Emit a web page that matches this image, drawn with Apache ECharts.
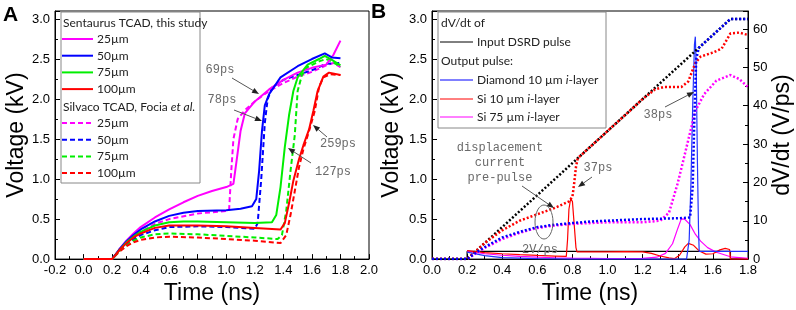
<!DOCTYPE html>
<html>
<head>
<meta charset="utf-8">
<script src="https://cdn.jsdelivr.net/npm/echarts@6/dist/echarts.min.js"></script>
<style>
  html, body { margin: 0; padding: 0; background: #fff; }
  #chart { width: 796px; height: 310px; }
</style>
</head>
<body>
<div id="chart"></div>
<script>
// ---- panel A: output voltage, Sentaurus (solid) vs Silvaco (dashed) ----
const sent25 = [[0,0],[0.2,0],[0.25,0.12],[0.3,0.23],[0.35,0.32],[0.4,0.4],[0.5,0.52],[0.6,0.62],[0.7,0.71],[0.8,0.79],[0.9,0.85],[1.0,0.9],[1.05,0.94],[1.07,1.2],[1.1,1.6],[1.13,1.82],[1.2,1.97],[1.3,2.12],[1.4,2.24],[1.5,2.33],[1.6,2.39],[1.7,2.43],[1.75,2.55],[1.8,2.73]]
const sent50 = [[0,0],[0.2,0],[0.25,0.12],[0.3,0.22],[0.35,0.3],[0.4,0.37],[0.5,0.47],[0.6,0.54],[0.7,0.58],[0.8,0.6],[1.0,0.61],[1.1,0.63],[1.18,0.66],[1.21,0.75],[1.23,1.1],[1.25,1.6],[1.27,1.92],[1.3,2.06],[1.38,2.27],[1.5,2.41],[1.6,2.5],[1.69,2.57],[1.74,2.52],[1.8,2.51]]
const sent75 = [[0,0],[0.2,0],[0.25,0.11],[0.3,0.21],[0.35,0.28],[0.4,0.34],[0.5,0.42],[0.6,0.46],[0.7,0.47],[0.8,0.47],[1.0,0.46],[1.2,0.45],[1.32,0.46],[1.35,0.55],[1.38,0.9],[1.41,1.4],[1.44,1.8],[1.47,2.1],[1.5,2.27],[1.57,2.43],[1.65,2.5],[1.69,2.54],[1.74,2.49],[1.8,2.42]]
const sent100 = [[0,0],[0.2,0],[0.25,0.11],[0.3,0.2],[0.35,0.27],[0.4,0.32],[0.5,0.39],[0.6,0.42],[0.8,0.42],[1.0,0.41],[1.2,0.39],[1.38,0.37],[1.41,0.45],[1.44,0.7],[1.47,0.98],[1.51,1.25],[1.54,1.42],[1.58,1.62],[1.61,1.85],[1.64,2.1],[1.68,2.28],[1.72,2.33],[1.8,2.3]]
const silv25 = [[0,0],[0.2,0],[0.25,0.11],[0.3,0.2],[0.35,0.28],[0.4,0.34],[0.5,0.44],[0.6,0.5],[0.8,0.57],[1.0,0.6],[1.02,0.62],[1.035,1.1],[1.05,1.5],[1.08,1.75],[1.13,1.86],[1.2,1.97],[1.3,2.1],[1.4,2.2],[1.5,2.28],[1.6,2.34],[1.7,2.42],[1.75,2.45],[1.8,2.4]]
const silv50 = [[0,0],[0.2,0],[0.25,0.1],[0.3,0.18],[0.35,0.25],[0.4,0.3],[0.5,0.36],[0.6,0.4],[0.8,0.41],[1.0,0.4],[1.2,0.38],[1.22,0.45],[1.245,1.0],[1.27,1.7],[1.29,2.0],[1.32,2.14],[1.4,2.24],[1.5,2.3],[1.6,2.36],[1.7,2.44],[1.8,2.45]]
const silv75 = [[0,0],[0.2,0],[0.25,0.1],[0.3,0.17],[0.35,0.23],[0.4,0.27],[0.5,0.31],[0.6,0.32],[0.8,0.31],[1.0,0.29],[1.2,0.27],[1.36,0.25],[1.39,0.3],[1.42,0.6],[1.45,1.1],[1.48,1.55],[1.5,2.1],[1.53,2.3],[1.57,2.4],[1.65,2.47],[1.7,2.5],[1.75,2.46],[1.8,2.4]]
const silv100 = [[0,0],[0.2,0],[0.25,0.09],[0.3,0.16],[0.35,0.21],[0.4,0.24],[0.5,0.27],[0.6,0.28],[0.8,0.27],[1.0,0.25],[1.2,0.23],[1.38,0.2],[1.42,0.3],[1.45,0.55],[1.48,0.85],[1.51,1.15],[1.54,1.37],[1.58,1.6],[1.62,1.85],[1.65,2.15],[1.68,2.27],[1.73,2.31],[1.8,2.3]]
const thicknessA = ['25µm', '50µm', '75µm', '100µm']

// ---- panel B: voltage (dotted, left axis) and dV/dt (solid, right axis) ----
const inputV = [[0,0],[0.2,0],[1.7,3.0],[1.8,3.0]]
const diamondV = [[0,0],[0.2,0],[0.25,0.08],[0.3,0.15],[0.4,0.27],[0.5,0.34],[0.6,0.4],[0.7,0.43],[0.8,0.45],[0.9,0.47],[1.0,0.48],[1.2,0.5],[1.4,0.51],[1.47,0.52],[1.485,0.9],[1.495,1.8],[1.505,2.5],[1.52,2.64],[1.7,3.0],[1.8,3.0]]
const si10V = [[0,0],[0.2,0],[0.25,0.1],[0.3,0.2],[0.4,0.36],[0.5,0.48],[0.6,0.56],[0.7,0.64],[0.78,0.72],[0.79,0.74],[0.8,0.78],[0.81,0.95],[0.82,1.15],[0.83,1.26],[1.0,1.6],[1.2,2.0],[1.27,2.12],[1.32,2.15],[1.42,2.15],[1.46,2.22],[1.5,2.45],[1.53,2.53],[1.6,2.58],[1.65,2.63],[1.7,2.82],[1.75,2.83],[1.8,2.8]]
const si75V = [[0,0],[0.2,0],[0.25,0.07],[0.3,0.14],[0.4,0.25],[0.5,0.33],[0.6,0.39],[0.7,0.42],[0.8,0.44],[1.0,0.46],[1.2,0.46],[1.3,0.48],[1.35,0.58],[1.4,0.95],[1.45,1.4],[1.5,1.85],[1.55,2.06],[1.62,2.23],[1.7,2.3],[1.75,2.25],[1.8,2.15]]
const inputRate = [[0,0],[0.2,0],[0.2,2],[1.7,2],[1.7,0],[1.8,0]]
const diamondRate = [[0.2,1.8],[0.3,0.9],[0.4,0.4],[0.6,0.1],[0.8,0],[1.45,0],[1.465,5],[1.475,20],[1.485,40],[1.495,56],[1.5,58],[1.505,50],[1.512,25],[1.518,8],[1.522,2],[1.8,2]]
const si10Rate = [[0.2,2.2],[0.3,1.7],[0.4,1.4],[0.5,1.15],[0.6,0.95],[0.7,0.8],[0.765,0.7],[0.772,5],[0.78,13],[0.79,15.8],[0.8,15],[0.81,9],[0.82,3],[0.826,1.9],[1.0,1.9],[1.1,1.95],[1.2,1.9],[1.25,1.5],[1.3,0.8],[1.35,0.3],[1.38,0.1],[1.41,1],[1.44,3.2],[1.46,4.1],[1.49,3.6],[1.52,2.2],[1.56,1.3],[1.6,1.4],[1.64,2.4],[1.67,2.8],[1.695,2.5],[1.7,0],[1.8,0]]
const si75Rate = [[0.2,2.1],[0.3,1.4],[0.4,1.0],[0.5,0.7],[0.6,0.5],[0.7,0.35],[0.8,0.25],[1.0,0.15],[1.2,0.2],[1.28,0.5],[1.33,1.5],[1.37,4],[1.4,8],[1.42,10.5],[1.44,10.4],[1.47,9],[1.5,6.5],[1.53,4.7],[1.57,3],[1.62,1.8],[1.7,0.6],[1.8,0.2]]

const SANS = 'Liberation Sans, Arial, sans-serif'
const LEG = 'Lato, Open Sans, sans-serif'
const MONO = 'Liberation Mono, DejaVu Sans Mono, monospace'
const MAG = '#ff00ff', BLU = '#0000ff', GRN = '#00ee00', RED = '#ff0000'

const chart = echarts.init(document.getElementById('chart'))

const valueAxis = (o) => Object.assign({
  type: 'value',
  axisLine: { show: true, onZero: false, lineStyle: { color: '#000', width: 1 } },
  axisTick: { show: true, inside: true, length: 5, lineStyle: { color: '#000' } },
  minorTick: { show: true, splitNumber: 2, length: 3, lineStyle: { color: '#000' } },
  splitLine: { show: false },
  axisLabel: { color: '#000', fontSize: 13, fontFamily: SANS, margin: 5, showMaxLabel: false },
  nameLocation: 'middle',
  nameTextStyle: { color: '#000', fontSize: 23, fontFamily: SANS }
}, o)

const line = (data, color, opts) => Object.assign({
  type: 'line', data, symbol: 'none', showSymbol: false, animation: false,
  lineStyle: { color, width: 2 }, itemStyle: { color }
}, opts)

// legend + annotation helpers (drawn with graphic elements)
const txt = (x, y, text, o) => ({
  type: 'text', z: 20,
  style: Object.assign({ x, y, text, fill: '#222', font: '12px ' + LEG, textVerticalAlign: 'middle' }, o)
})
const seg = (x1, y1, x2, y2, color, width, dash) => ({
  type: 'line', z: 20, shape: { x1, y1, x2, y2 },
  style: { stroke: color, lineWidth: width, lineDash: dash || null }
})
const arrow = (x1, y1, x2, y2) => {
  const a = Math.atan2(y2 - y1, x2 - x1), L = 7, W = 2.8
  const bx = x2 - L * Math.cos(a), by = y2 - L * Math.sin(a)
  return [
    seg(x1, y1, bx, by, '#555', 1),
    { type: 'polygon', z: 20, shape: { points: [[x2, y2],
      [bx - W * Math.sin(a), by + W * Math.cos(a)], [bx + W * Math.sin(a), by - W * Math.cos(a)]] },
      style: { fill: '#222' } }
  ]
}
const note = (x, y, text) => txt(x, y, text, { font: '12px ' + MONO, fill: '#6a6a6a', textAlign: 'center' })

const legendA = [
  { type: 'rect', z: 19, shape: { x: 61, y: 12, width: 139, height: 171 }, style: { fill: '#fff', stroke: '#888', lineWidth: 1 } },
  txt(63, 23, 'Sentaurus TCAD, this study'),
  txt(63, 107, '', { text: '{n|Silvaco TCAD, Focia }{i|et al.}', rich: { n: { font: '12px ' + LEG, fill: '#222' }, i: { font: 'italic 12px ' + LEG, fill: '#222' } } })
]
;[MAG, BLU, GRN, RED].forEach((c, i) => {
  const y1 = 39 + i * 16.7, y2 = 123 + i * 16.7
  legendA.push(seg(62, y1, 93, y1, c, 2), txt(97, y1, thicknessA[i]))
  legendA.push(seg(62, y2, 93, y2, c, 2, [5, 3]), txt(97, y2, thicknessA[i]))
})

const richI = (pre, post) => ({
  text: '{n|' + pre + '}{i|i}{n|' + post + '}',
  rich: { n: { font: '12px ' + LEG, fill: '#222' }, i: { font: 'italic 12px ' + LEG, fill: '#222' } }
})
const legendB = [
  { type: 'rect', z: 19, shape: { x: 438, y: 12, width: 168, height: 116 }, style: { fill: '#fff', stroke: '#888', lineWidth: 1 } },
  txt(441, 23, 'dV/dt of'),
  seg(440, 42, 473, 42, '#000', 1), txt(477, 42, 'Input DSRD pulse'),
  txt(441, 61, 'Output pulse:'),
  seg(440, 80, 473, 80, BLU, 1), txt(477, 80, '', richI('Diamond 10 µm ', '-layer')),
  seg(440, 99, 473, 99, RED, 1), txt(477, 99, '', richI('Si 10 µm ', '-layer')),
  seg(440, 117, 473, 117, MAG, 1), txt(477, 117, '', richI('Si 75 µm ', '-layer'))
]

const notes = [
  txt(3, 15, 'A', { font: 'bold 21px ' + SANS, fill: '#000' }),
  txt(371, 12, 'B', { font: 'bold 21px ' + SANS, fill: '#000' }),
  note(220, 70, '69ps'), ...arrow(232, 78, 259, 94),
  note(222, 100, '78ps'), ...arrow(234, 110, 262, 121),
  note(338, 144, '259ps'), ...arrow(327, 137, 313, 125),
  note(333, 172, '127ps'), ...arrow(311, 163, 288, 148),
  note(500, 148, 'displacement'), note(500, 163, 'current'), note(500, 178, 'pre-pulse'),
  ...arrow(522, 186, 554, 208),
  { type: 'ellipse', z: 20, shape: { cx: 544, cy: 222, rx: 9, ry: 17 }, style: { fill: 'none', stroke: '#666', lineWidth: 1 } },
  note(598, 168, '37ps'), ...arrow(592, 177, 578, 187),
  note(658, 115, '38ps'), ...arrow(665, 107, 694, 92),
  note(540, 250, '2V/ps')
]

const dot = [2, 2]
const dash = [5, 3]
chart.setOption({
  animation: false,
  grid: [
    { left: 55, top: 11, width: 314, height: 254, show: true, borderColor: '#000', borderWidth: 1 },
    { left: 432, top: 11, width: 316, height: 254, show: true, borderColor: '#000', borderWidth: 1 }
  ],
  xAxis: [
    valueAxis({ gridIndex: 0, min: -0.2, max: 2.0, interval: 0.2, name: 'Time (ns)', nameGap: 17,
      axisLabel: { color: '#000', fontSize: 13, fontFamily: SANS, margin: 5, formatter: v => v.toFixed(1) } }),
    valueAxis({ gridIndex: 1, min: 0, max: 1.8, interval: 0.2, name: 'Time (ns)', nameGap: 17,
      axisLabel: { color: '#000', fontSize: 13, fontFamily: SANS, margin: 5, formatter: v => v.toFixed(1) } })
  ],
  yAxis: [
    valueAxis({ gridIndex: 0, min: 0, max: 3.1, interval: 0.5, name: 'Voltage (kV)', nameGap: 25,
      axisLabel: { color: '#000', fontSize: 13, fontFamily: SANS, margin: 5, showMaxLabel: false, formatter: v => v.toFixed(1) } }),
    valueAxis({ gridIndex: 1, min: 0, max: 3.1, interval: 0.5, name: 'Voltage (kV)', nameGap: 29,
      axisLabel: { color: '#000', fontSize: 13, fontFamily: SANS, margin: 5, showMaxLabel: false, formatter: v => v.toFixed(1) } }),
    valueAxis({ gridIndex: 1, position: 'right', min: 0, max: 64.7, interval: 10, name: 'dV/dt (V/ps)', nameGap: 22, nameRotate: 90 })
  ],
  series: [
    line(silv25, MAG, { lineStyle: { color: MAG, width: 2, type: dash } }),
    line(silv50, BLU, { lineStyle: { color: BLU, width: 2, type: dash } }),
    line(silv75, GRN, { lineStyle: { color: GRN, width: 2, type: dash } }),
    line(silv100, RED, { lineStyle: { color: RED, width: 2, type: dash } }),
    line(sent25, MAG),
    line(sent50, BLU),
    line(sent75, GRN),
    line(sent100, RED),

    line(inputRate, '#000', { xAxisIndex: 1, yAxisIndex: 2, lineStyle: { color: '#000', width: 1.2 } }),
    line(si75Rate, MAG, { xAxisIndex: 1, yAxisIndex: 2, lineStyle: { color: MAG, width: 1.2 } }),
    line(si10Rate, RED, { xAxisIndex: 1, yAxisIndex: 2, lineStyle: { color: RED, width: 1.2 } }),
    line(diamondRate, BLU, { xAxisIndex: 1, yAxisIndex: 2, lineStyle: { color: '#2233ff', width: 1.2 } }),
    line(inputV, '#000', { xAxisIndex: 1, yAxisIndex: 1, lineStyle: { color: '#000', width: 2.5, type: dot } }),
    line(si75V, MAG, { xAxisIndex: 1, yAxisIndex: 1, lineStyle: { color: MAG, width: 2.5, type: dot } }),
    line(si10V, RED, { xAxisIndex: 1, yAxisIndex: 1, lineStyle: { color: RED, width: 2.5, type: dot } }),
    line(diamondV, BLU, { xAxisIndex: 1, yAxisIndex: 1, lineStyle: { color: BLU, width: 2.5, type: dot } })
  ],
  graphic: [...legendA, ...legendB, ...notes]
})
</script>
</body>
</html>
